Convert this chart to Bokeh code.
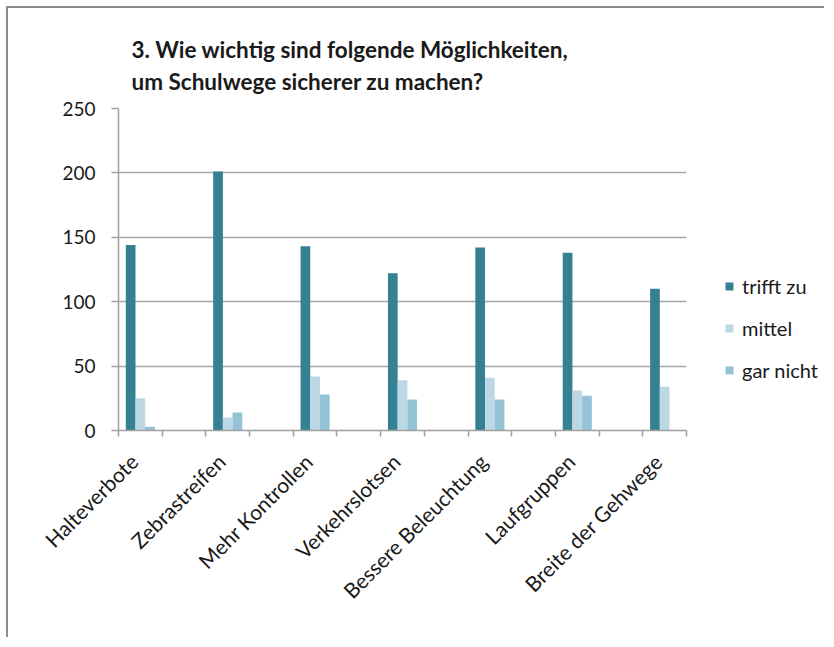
from bokeh.plotting import figure
from bokeh.models import ColumnDataSource, FixedTicker, Legend, LegendItem
from bokeh.embed import file_html
from bokeh.resources import INLINE
from math import pi

categories = ["Halteverbote", "Zebrastreifen", "Mehr Kontrollen", "Verkehrslotsen",
              "Bessere Beleuchtung", "Laufgruppen", "Breite der Gehwege"]
trifft_zu = [144, 201, 143, 122, 142, 138, 110]
mittel = [25, 10, 42, 39, 41, 31, 34]
gar_nicht = [3, 14, 28, 24, 24, 27, 0]
series_names = ["trifft zu", "mittel", "gar nicht"]
colors = ["#368094", "#bcd8e4", "#94c3d6"]
y_ticks = [0, 50, 100, 150, 200, 250]

FONT = "Lato"
centers = [2 * i + 0.5 for i in range(len(categories))]
n_slots = 2 * len(categories) - 1
bar_w = 0.222
label_shift = 0.15

# frame extends to the right edge so the legend can sit inside it;
# axis line and grid lines are bounded to the category slots
PLOT_W, PLOT_AREA_W, FRAME_W = 818, 568, 708
x_end = n_slots * FRAME_W / PLOT_AREA_W

p = figure(width=PLOT_W, height=631, x_range=(0, x_end), y_range=(0, 250),
           output_backend="svg", toolbar_location=None,
           min_border_left=110, min_border_right=0, min_border_top=100, min_border_bottom=209)
p.styles = {"margin-left": "6px", "margin-top": "6px",
            "border-left": "2px solid #8c8c8c", "border-top": "2px solid #8c8c8c"}
p.outline_line_color = None
p.background_fill_color = "white"
p.border_fill_color = "white"

renderers = []
for k, (vals, name, col) in enumerate(zip([trifft_zu, mittel, gar_nicht], series_names, colors)):
    offset = (k - 1) * bar_w
    src = ColumnDataSource(dict(x=[c + offset for c in centers], top=vals, cat=categories))
    r = p.vbar(x="x", top="top", bottom=0, width=bar_w, source=src,
               fill_color=col, line_color=None)
    renderers.append((name, r))

label_pos = [c - label_shift for c in centers]
p.xaxis.ticker = FixedTicker(ticks=label_pos, minor_ticks=list(range(n_slots + 1)))
p.xaxis.bounds = (0, n_slots)
p.xaxis.major_label_overrides = {x: name for x, name in zip(label_pos, categories)}
p.xaxis.major_label_orientation = pi / 4
p.xaxis.major_tick_out = 0
p.xaxis.major_tick_in = 0
p.xaxis.minor_tick_out = 6
p.xaxis.minor_tick_in = 0
p.xaxis.minor_tick_line_color = "#a0a0a0"
p.xaxis.minor_tick_line_width = 1.5
p.xaxis.axis_line_color = "#a0a0a0"
p.xaxis.axis_line_width = 1.5
p.xaxis.major_label_text_font = FONT
p.xaxis.major_label_text_font_size = "21px"
p.xaxis.major_label_text_color = "#1a1a1a"
p.xaxis.major_label_standoff = 21
p.xgrid.grid_line_color = None

p.yaxis.ticker = FixedTicker(ticks=y_ticks)
p.yaxis.major_tick_out = 7
p.yaxis.major_tick_in = 0
p.yaxis.minor_tick_line_color = None
p.yaxis.major_tick_line_color = "#a0a0a0"
p.yaxis.major_tick_line_width = 1.5
p.yaxis.axis_line_color = "#a0a0a0"
p.yaxis.axis_line_width = 1.5
p.yaxis.major_label_text_font = FONT
p.yaxis.major_label_text_font_size = "19px"
p.yaxis.major_label_text_color = "#1a1a1a"
p.yaxis.major_label_standoff = 16

grid = p.ygrid[0]
try:
    grid.cross_bounds = (0, n_slots)
    grid.grid_line_color = "#a6a6a6"
    grid.grid_line_width = 1.5
except AttributeError:
    grid.grid_line_color = None
    p.segment(x0=[0] * len(y_ticks), x1=[n_slots] * len(y_ticks), y0=y_ticks, y1=y_ticks,
              line_color="#a6a6a6", line_width=1.5, level="underlay")

p.title.text = "3. Wie wichtig sind folgende Möglichkeiten,\num Schulwege sicherer zu machen?"
p.title.text_font = FONT
p.title.text_font_size = "22.5px"
p.title.text_font_style = "bold"
p.title.text_color = "#1a1a1a"
p.title.align = "left"
p.title.offset = 13
p.title.text_line_height = 1.2
p.title.standoff = 27

legend = Legend(items=[LegendItem(label=n, renderers=[r]) for n, r in renderers],
                location=(606, 48), orientation="vertical")
legend.label_text_font = FONT
legend.label_text_font_size = "20px"
legend.label_text_color = "#1a1a1a"
legend.glyph_width = 10
legend.glyph_height = 10
legend.label_standoff = 8
legend.spacing = 18
legend.border_line_color = None
legend.background_fill_alpha = 0
legend.padding = 0
legend.margin = 0
p.add_layout(legend)

open("out.html", "w").write(file_html(p, INLINE))
